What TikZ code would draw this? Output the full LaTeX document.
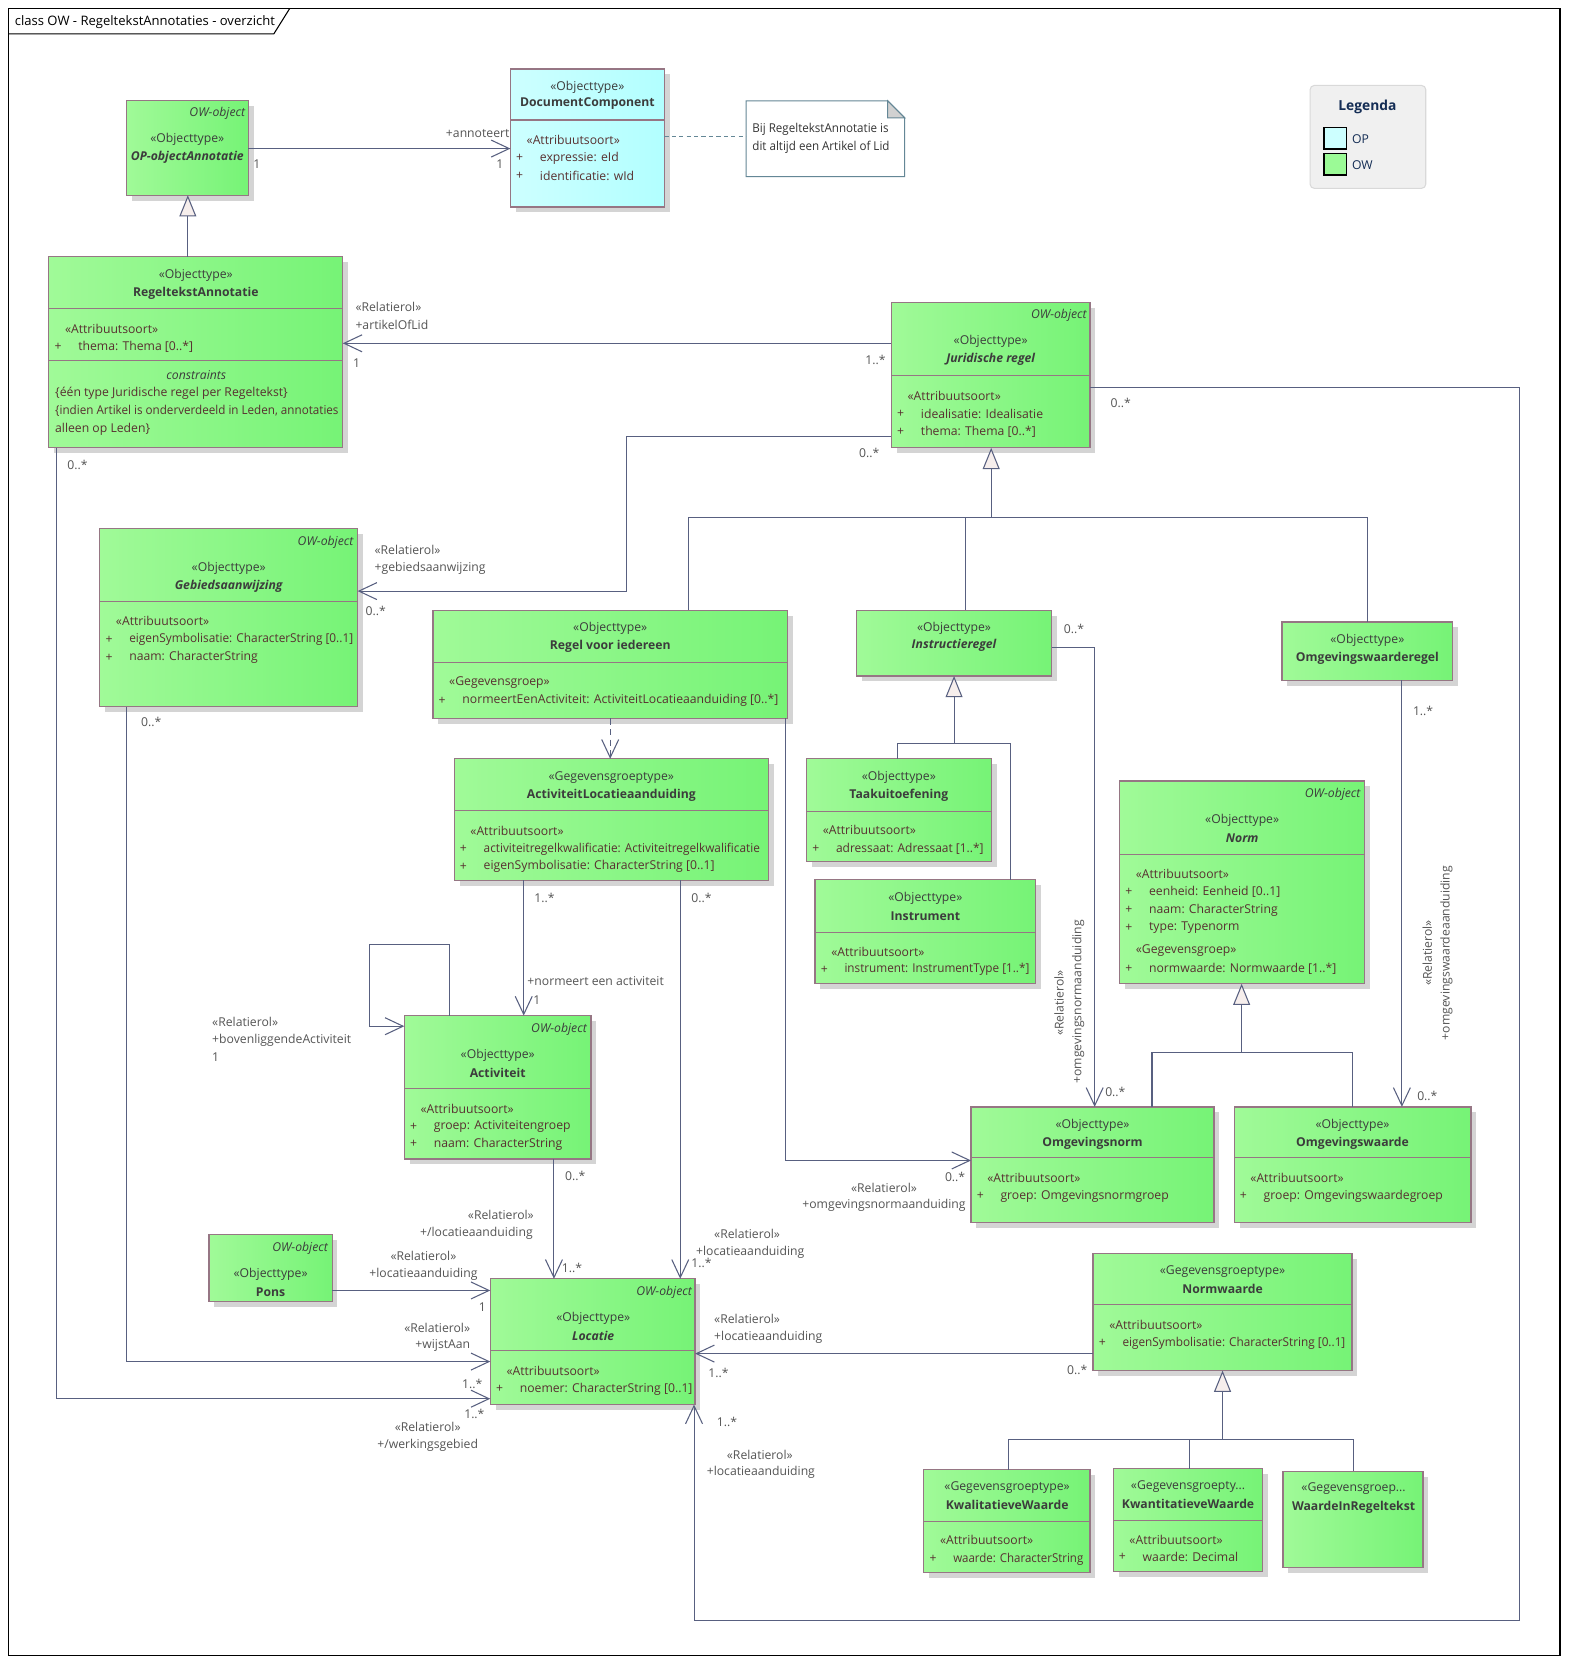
\documentclass[tikz,border=0pt]{standalone}
\usepackage{fontspec}
\setmainfont{Open Sans}
\usetikzlibrary{arrows.meta,shadows}
\definecolor{owL}{RGB}{160,250,152}
\definecolor{owR}{RGB}{118,243,118}
\definecolor{opL}{RGB}{205,255,255}
\definecolor{opR}{RGB}{178,255,255}
\definecolor{bordc}{RGB}{150,118,132}
\definecolor{lnc}{RGB}{88,96,128}
\definecolor{txtc}{RGB}{60,60,60}
\definecolor{attc}{RGB}{88,48,48}
\definecolor{lblc}{RGB}{85,85,85}
\definecolor{genf}{RGB}{246,238,236}
\definecolor{notec}{RGB}{100,135,150}
\definecolor{legc}{RGB}{20,45,85}
\newcommand\fs{\fontsize{11.5}{14}\selectfont}
\newcommand\sq[2]{\scalebox{#1}[1]{#2}}
\tikzset{
 cls/.style={draw=bordc, line width=1.2pt, left color=#1L, right color=#1R, inner sep=0pt, outer sep=0pt, anchor=north west,
   drop shadow={shadow xshift=5pt, shadow yshift=-5pt, fill=black!17, opacity=1}},
 cls/.default=ow,
 divl/.style={draw=bordc, line width=1.2pt},
 base/.style={inner sep=0pt, outer sep=0pt, font=\fs, yshift=-1pt},
 stt/.style={base, text=txtc},
 nmb/.style={base, text=txtc, font=\fs\bfseries},
 nmi/.style={base, text=txtc, font=\fs\bfseries\itshape},
 owt/.style={base, text=txtc, font=\fs\itshape, anchor=east},
 atx/.style={base, text=attc, anchor=west},
 lbl/.style={base, text=lblc},
 lbw/.style={lbl, anchor=west},
 lbe/.style={lbl, anchor=east},
 assoc/.style={draw=lnc, line width=1pt, -{Straight Barb[length=17pt,width=16pt]}},
 gen/.style={draw=lnc, line width=1pt, -{Triangle[length=20pt,width=16pt,fill=genf]}},
 tree/.style={draw=lnc, line width=1pt},
 dep/.style={draw=lnc, line width=1pt, dash pattern=on 6pt off 4pt, -{Straight Barb[length=17pt,width=16pt]}},
}
\newcommand\kbox[6][ow]{\node[cls=#1, minimum width={#5-#3}, minimum height={#6-#4}] (#2) at (#3,#4) {};}
\newcommand\kdiv[2]{\draw[divl] (#1.west |- 0,#2) -- (#1.east |- 0,#2);}
\newcommand\kster[3]{\node[atx] at (#1+15.3,#2) {#3};}
\newcommand\kattr[3]{\node[atx, anchor=center] at (#1+8.7,#2) {+}; \node[atx] at (#1+27.8,#2) {#3};}
\begin{document}
\begin{tikzpicture}[x=1pt,y=-1pt]
\useasboundingbox (0,0) rectangle (1478,1568);
\fill[white] (0,0) rectangle (1478,1568);
% frame
\draw[black, line width=1pt] (8,8) rectangle (1470,1560);
\draw[black, line width=1pt] (8,32) -- (258,32) -- (273,8);
\node[base, anchor=west, text=black, font=\fontsize{12.3}{14}\selectfont] (title) at (14,20) {class OW - RegeltekstAnnotaties - overzicht};

% ---------- boxes ----------
% OP-objectAnnotatie
\kbox{opa}{119}{95}{234}{184}
\node[owt] at (231,106) {OW-object};
\node[stt] at (176.5,130) {«Objecttype»};
\node[nmi] at (176.5,147.5) {OP-objectAnnotatie};

% DocumentComponent
\kbox[op]{doc}{481}{65}{626}{195}
\node[stt] at (553.5,81) {«Objecttype»};
\node[nmb] at (553.5,97) {DocumentComponent};
\kdiv{doc}{113}
\kster{481}{130.5}{«Attribuutsoort»}
\kattr{481}{148}{expressie: eId}
\kattr{481}{165}{identificatie: wId}

% note
\node[inner sep=0pt, minimum width=149, minimum height=71, anchor=north west] (note) at (703,95) {};
\draw[draw=notec, fill=white, line width=1pt] (note.north west) -- ([xshift=-16pt]note.north east) -- ([yshift=-16pt]note.north east) -- (note.south east) -- (note.south west) -- cycle;
\draw[draw=notec, fill=black!18, line width=1pt] ([xshift=-16pt]note.north east) -- ([yshift=-16pt]note.north east) -- ([xshift=-16pt,yshift=-16pt]note.north east) -- cycle;
\node[base, anchor=west, text=black!80] (notet1) at (709,120.5) {\sq{0.95}{Bij RegeltekstAnnotatie is}};
\node[base, anchor=west, text=black!80] (notet2) at (709,137.5) {\sq{0.95}{dit altijd een Artikel of Lid}};

% legend
\node[draw=black!15, fill=black!6, line width=1pt, rounded corners=4pt, minimum width=109, minimum height=97, anchor=north west] (leg) at (1234,80) {};
\node[base, font=\fontsize{13}{15}\selectfont\bfseries, text=legc] (legt) at (1288.5,100) {Legenda};
\node[draw=black, line width=1.5pt, fill=opL, minimum width=21, minimum height=20, inner sep=0pt, anchor=north west] (legop) at (1247,119.5) {};
\node[draw=black, line width=1.5pt, fill={rgb,255:red,155;green,250;blue,150}, minimum width=21, minimum height=20, inner sep=0pt, anchor=north west] (legow) at (1247,144) {};
\node[base, anchor=west, text=legc] (legopt) at (1274,130) {OP};
\node[base, anchor=west, text=legc] (legowt) at (1274,154.5) {OW};

% RegeltekstAnnotatie
\kbox{rta}{46}{242}{323}{422}
\node[stt] at (184.5,258) {«Objecttype»};
\node[nmb] at (184.5,275) {RegeltekstAnnotatie};
\kdiv{rta}{291}
\kster{46}{309}{«Attribuutsoort»}
\kattr{46}{326}{thema: Thema [0..*]}
\kdiv{rta}{339.5}
\node[base, text=txtc, font=\fs\itshape] at (185,352.5) {constraints};
\node[atx] at (52,369.5) {\{één type Juridische regel per Regeltekst\}};
\node[atx] at (52,386.5) {\sq{0.955}{\{indien Artikel is onderverdeeld in Leden, annotaties}};
\node[atx] at (52,403.5) {alleen op Leden\}};

% Juridische regel
\kbox{jr}{840}{285}{1027}{422}
\node[owt] at (1024,296.5) {OW-object};
\node[stt] at (933.5,321) {«Objecttype»};
\node[nmi] at (933.5,338) {Juridische regel};
\kdiv{jr}{354}
\kster{840}{372}{«Attribuutsoort»}
\kattr{840}{389}{idealisatie: Idealisatie}
\kattr{840}{405.5}{thema: Thema [0..*]}

% Gebiedsaanwijzing
\kbox{geb}{94}{498}{337}{666}
\node[owt] at (333,510) {OW-object};
\node[stt] at (215.5,534.5) {«Objecttype»};
\node[nmi] at (215.5,551.5) {Gebiedsaanwijzing};
\kdiv{geb}{567}
\kster{94}{584.5}{«Attribuutsoort»}
\kattr{94}{601.5}{\sq{0.97}{eigenSymbolisatie: CharacterString [0..1]}}
\kattr{94}{618.5}{naam: CharacterString}

% Regel voor iedereen
\kbox{rvi}{408}{575}{742}{677}
\node[stt] at (575,591) {«Objecttype»};
\node[nmb] at (575,608) {Regel voor iedereen};
\kdiv{rvi}{624}
\kster{408}{642}{«Gegevensgroep»}
\kattr{408}{659}{normeertEenActiviteit: ActiviteitLocatieaanduiding [0..*]}

% ActiviteitLocatieaanduiding
\kbox{ala}{428}{715}{724}{829.5}
\node[stt] at (576,732) {«Gegevensgroeptype»};
\node[nmb] at (576,748.5) {ActiviteitLocatieaanduiding};
\kdiv{ala}{764}
\kster{428}{782}{«Attribuutsoort»}
\kattr{428}{799}{\sq{0.965}{activiteitregelkwalificatie: Activiteitregelkwalificatie}}
\kattr{428}{815.5}{eigenSymbolisatie: CharacterString [0..1]}

% Instructieregel
\kbox{ins}{807}{575}{991}{637}
\node[stt] at (899,591) {«Objecttype»};
\node[nmi] at (899,607.5) {Instructieregel};

% Omgevingswaarderegel
\kbox{owr}{1208}{586}{1369}{641}
\node[stt] at (1288.5,602) {«Objecttype»};
\node[nmb] at (1288.5,619) {Omgevingswaarderegel};

% Taakuitoefening
\kbox{taak}{760}{715}{934}{812}
\node[stt] at (847,731.5) {«Objecttype»};
\node[nmb] at (847,748.5) {Taakuitoefening};
\kdiv{taak}{764.5}
\kster{760}{781.5}{«Attribuutsoort»}
\kattr{760}{798.5}{\sq{0.98}{adressaat: Adressaat [1..*]}}

% Instrument
\kbox{instr}{768}{829}{976}{927}
\node[stt] at (872,845.5) {«Objecttype»};
\node[nmb] at (872,862.5) {Instrument};
\kdiv{instr}{879}
\kster{768}{896}{«Attribuutsoort»}
\kattr{768}{912.5}{\sq{0.96}{instrument: InstrumentType [1..*]}}

% Norm
\kbox{norm}{1055}{736}{1286}{927}
\node[owt] at (1282,747.5) {OW-object};
\node[stt] at (1170.5,772) {«Objecttype»};
\node[nmi] at (1170.5,789) {Norm};
\kdiv{norm}{805}
\kster{1055}{822.5}{«Attribuutsoort»}
\kattr{1055}{839.5}{eenheid: Eenheid [0..1]}
\kattr{1055}{856.5}{naam: CharacterString}
\kattr{1055}{873.5}{type: Typenorm}
\kster{1055}{895}{«Gegevensgroep»}
\kattr{1055}{912}{normwaarde: Normwaarde [1..*]}

% Activiteit
\kbox{act}{381}{957}{557}{1092}
\node[owt] at (553,968.5) {OW-object};
\node[stt] at (469,993) {«Objecttype»};
\node[nmb] at (469,1010) {Activiteit};
\kdiv{act}{1025.5}
\kster{381}{1043.5}{«Attribuutsoort»}
\kattr{381}{1060.5}{groep: Activiteitengroep}
\kattr{381}{1077}{naam: CharacterString}

% Omgevingsnorm
\kbox{onorm}{915}{1043}{1144}{1152}
\node[stt] at (1029.5,1059) {«Objecttype»};
\node[nmb] at (1029.5,1076) {Omgevingsnorm};
\kdiv{onorm}{1091}
\kster{915}{1109}{«Attribuutsoort»}
\kattr{915}{1126}{groep: Omgevingsnormgroep}

% Omgevingswaarde
\kbox{owaarde}{1163}{1043}{1386}{1152}
\node[stt] at (1274.5,1059) {«Objecttype»};
\node[nmb] at (1274.5,1076) {Omgevingswaarde};
\kdiv{owaarde}{1091}
\kster{1163}{1109}{«Attribuutsoort»}
\kattr{1163}{1126}{groep: Omgevingswaardegroep}

% Pons
\kbox{pons}{197}{1163}{313}{1226.5}
\node[owt] at (309,1175) {OW-object};
\node[stt] at (255,1199.5) {«Objecttype»};
\node[nmb] at (255,1216.5) {Pons};

% Locatie
\kbox{loc}{462}{1205}{655}{1323.5}
\node[owt] at (652,1216.5) {OW-object};
\node[stt] at (559,1241) {«Objecttype»};
\node[nmi] at (559,1257.5) {Locatie};
\kdiv{loc}{1272.5}
\kster{462}{1290.5}{«Attribuutsoort»}
\kattr{462}{1308}{noemer: CharacterString [0..1]}

% Normwaarde
\kbox{nw}{1030}{1181}{1274}{1291.5}
\node[stt] at (1152,1197) {«Gegevensgroeptype»};
\node[nmb] at (1152,1214) {Normwaarde};
\kdiv{nw}{1229.5}
\kster{1030}{1247.5}{«Attribuutsoort»}
\kattr{1030}{1264.5}{\sq{0.965}{eigenSymbolisatie: CharacterString [0..1]}}

% KwalitatieveWaarde
\kbox{kwal}{870.5}{1385}{1027}{1482}
\node[stt] at (949,1401) {«Gegevensgroeptype»};
\node[nmb] at (949,1417.5) {KwalitatieveWaarde};
\kdiv{kwal}{1433.5}
\kster{870.5}{1450.5}{«Attribuutsoort»}
\kattr{870.5}{1468}{\sq{0.94}{waarde: CharacterString}}

% KwantitatieveWaarde
\kbox{kwan}{1049}{1384}{1189.5}{1481}
\node[stt] at (1119.5,1400) {«Gegevensgroepty...};
\node[nmb] at (1119.5,1416.5) {KwantitatieveWaarde};
\kdiv{kwan}{1432.5}
\kster{1049}{1450}{«Attribuutsoort»}
\kattr{1049}{1466.5}{waarde: Decimal}

% WaardeInRegeltekst
\kbox{wirt}{1209}{1386.5}{1341}{1477}
\node[stt] at (1275.5,1402) {«Gegevensgroep...};
\node[nmb] at (1275.5,1419) {WaardeInRegeltekst};

% ---------- connectors ----------
\draw[assoc] (opa.east |- 0,140) -- (doc.west |- 0,140);
\node[lbl] at (242,154) {1};
\node[lbe] at (480,124.5) {+annoteert};
\node[lbl] at (471,154) {1};

\draw[gen] (rta.north -| 177,0) -- (opa.south -| 177,0);

\draw[draw=notec, line width=1pt, dash pattern=on 4pt off 3pt] (doc.east |- 0,129) -- (note.west |- 0,129);

\draw[assoc] (jr.west |- 0,323.5) -- (rta.east |- 0,323.5);
\node[lbw] at (335,288) {«Relatierol»};
\node[lbw] at (335,305) {+artikelOfLid};
\node[lbl] at (336,341) {1};
\node[lbl] at (825,338) {1..*};

\draw[assoc] (jr.west |- 0,411) -- (590,411) -- (590,557) -- (geb.east |- 0,557);
\node[lbl] at (819,426) {0..*};
\node[lbw] at (353,517.5) {«Relatierol»};
\node[lbw] at (353,534.5) {+gebiedsaanwijzing};
\node[lbl] at (354,575) {0..*};

\draw[assoc] (jr.east |- 0,365) -- (1432,365) -- (1432,1527) -- (654,1527) -- (loc.south -| 654,0);
\node[lbl] at (1056,379) {0..*};
\node[lbl] at (685,1339) {1..*};
\node[lbl] at (716,1369.5) {«Relatierol»};
\node[lbw] at (666,1386) {+locatieaanduiding};

% generalization Juridische regel
\draw[tree] (rvi.north -| 649,0) -- (649,487.5) -- (1289,487.5) -- (owr.north -| 1289,0);
\draw[tree] (ins.north -| 910,0) -- (910,487.5);
\draw[gen] (934,487.5) -- (jr.south -| 934,0);

\draw[assoc] (geb.south -| 119,0) -- (119,1283) -- (loc.west |- 0,1283);
\node[lbl] at (142.5,679.5) {0..*};
\node[lbe] at (443,1250) {«Relatierol»};
\node[lbe] at (443,1267) {+wijstAan};
\node[lbl] at (445,1303) {1..*};

\draw[assoc] (rta.south -| 53,0) -- (53,1318) -- (loc.west |- 0,1318);
\node[lbl] at (73,437) {0..*};
\node[lbl] at (447,1331.5) {1..*};
\node[lbl] at (403,1344) {«Relatierol»};
\node[lbl] at (403,1361) {+/werkingsgebied};

\draw[dep] (rvi.south -| 575,0) -- (ala.north -| 575,0);

\draw[assoc] (rvi.south -| 740,0) -- (740,1093.5) -- (onorm.west |- 0,1093.5);
\node[lbl] at (900,1108) {0..*};
\node[lbl] at (833,1118) {«Relatierol»};
\node[lbl] at (833,1134.5) {+omgevingsnormaanduiding};

\draw[assoc] (ala.south -| 493.5,0) -- (act.north -| 493.5,0);
\node[lbl] at (513,845) {1..*};
\node[lbw] at (497,923.5) {+normeert een activiteit};
\node[lbl] at (506,941) {1};

\draw[assoc] (ala.south -| 641,0) -- (loc.north -| 641,0);
\node[lbl] at (661,845) {0..*};
\node[lbw] at (673,1162) {«Relatierol»};
\node[lbw] at (656,1179) {+locatieaanduiding};
\node[lbl] at (661,1189) {1..*};

\draw[assoc] (ins.east |- 0,610) -- (1031.5,610) -- (onorm.north -| 1031.5,0);
\node[lbl] at (1012,592) {0..*};
\node[lbl, rotate=90] at (998,944) {«Relatierol»};
\node[lbl, rotate=90] at (1016,943) {+omgevingsnormaanduiding};
\node[lbl] at (1051,1027.5) {0..*};

\draw[tree] (taak.north -| 846,0) -- (846,701) -- (952.5,701) -- (instr.north -| 952.5,0);
\draw[gen] (899,701) -- (ins.south -| 899,0);

\draw[assoc] (owr.south -| 1321,0) -- (owaarde.north -| 1321,0);
\node[lbl] at (1341,669) {1..*};
\node[lbl, rotate=90] at (1345,897) {«Relatierol»};
\node[lbl, rotate=90] at (1363,897) {+omgevingswaardeaanduiding};
\node[lbl] at (1345,1032) {0..*};

\draw[tree] (onorm.north -| 1085.5,0) -- (1085.5,992) -- (1274.5,992) -- (owaarde.north -| 1274.5,0);
\draw[gen] (1170,992) -- (norm.south -| 1170,0);

\draw[assoc] (act.north -| 424,0) -- (424,890) -- (348,890) -- (348,967) -- (act.west |- 0,967);
\node[lbw] at (200,962) {«Relatierol»};
\node[lbw] at (200,979) {+bovenliggendeActiviteit};
\node[lbw] at (200,995.5) {1};

\draw[assoc] (act.south -| 522,0) -- (loc.north -| 522,0);
\node[lbl] at (542,1107) {0..*};
\node[lbe] at (503,1143.5) {«Relatierol»};
\node[lbe] at (502,1161) {+/locatieaanduiding};
\node[lbl] at (539,1194) {1..*};

\draw[assoc] (pons.east |- 0,1216) -- (loc.west |- 0,1216);
\node[lbl] at (399,1182.5) {«Relatierol»};
\node[lbl] at (399,1200) {+locatieaanduiding};
\node[lbl] at (454.5,1231) {1};

\draw[assoc] (nw.west |- 0,1275.5) -- (loc.east |- 0,1275.5);
\node[lbw] at (673,1242) {«Relatierol»};
\node[lbw] at (673,1259) {+locatieaanduiding};
\node[lbl] at (677,1293) {1..*};
\node[lbl] at (1015,1290) {0..*};

\draw[tree] (kwal.north -| 950,0) -- (950,1356.5) -- (1275,1356.5) -- (wirt.north -| 1275,0);
\draw[tree] (kwan.north -| 1120.5,0) -- (1120.5,1356.5);
\draw[gen] (1152,1356.5) -- (nw.south -| 1152,0);
\end{tikzpicture}
\end{document}
